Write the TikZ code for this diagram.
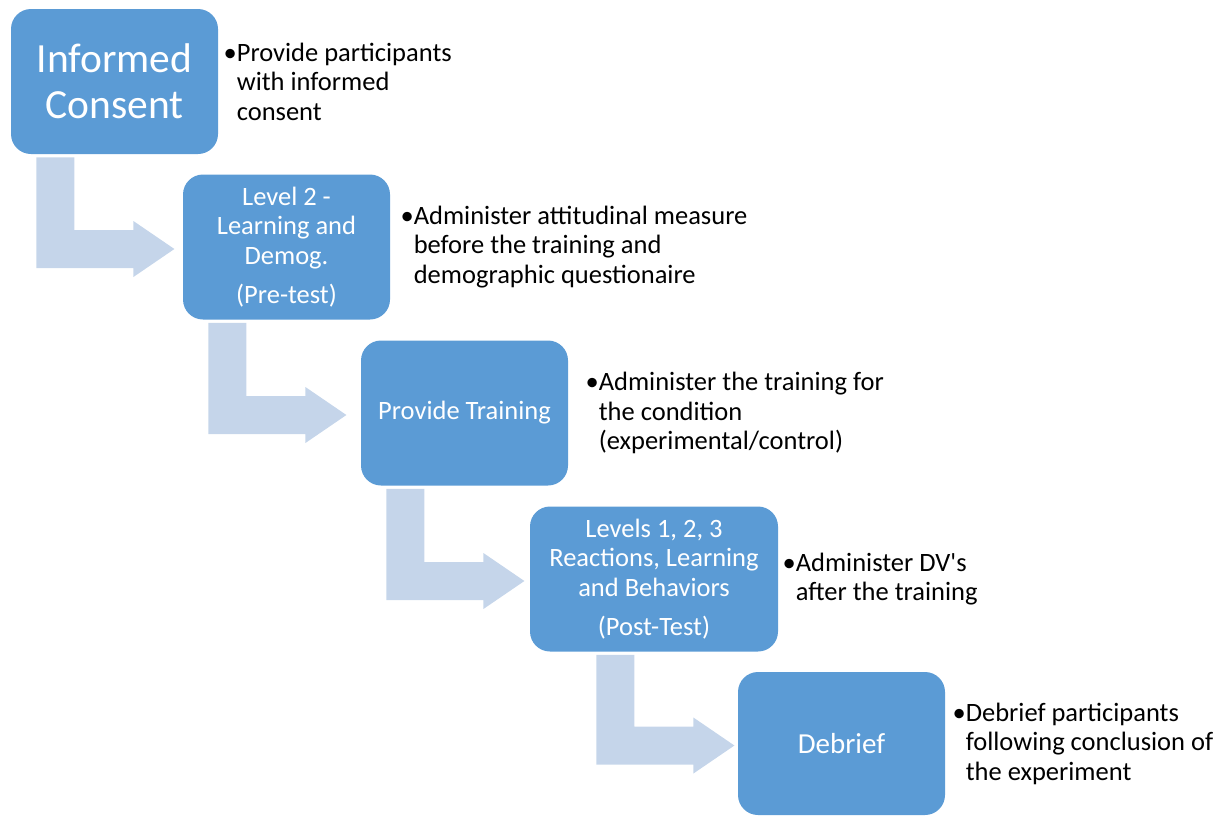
\documentclass[tikz,border=0pt]{standalone}
\usepackage{fontspec}
\setmainfont{Carlito}
\usepackage{tikz}
\usetikzlibrary{positioning, calc}
\definecolor{stageblue}{HTML}{5B9BD5}
\definecolor{arrowblue}{HTML}{C5D5EA}
\tikzstyle{stage} = [rectangle, rounded corners=10pt, fill=stageblue, text=white, align=center, minimum width=103.5pt, minimum height=72.5pt, inner sep=2pt, font=\fontsize{13.25}{14.75}\selectfont]
\tikzstyle{stepnote} = [align=left, inner sep=0pt, font=\fontsize{13.25}{14.75}\selectfont]
\tikzstyle{flowarrow} = [fill=arrowblue]

\begin{document}
\begin{tikzpicture}[x=0.5pt, y=-0.5pt]

   \useasboundingbox (0,0) rectangle (1224,815);

   % Draw the stage boxes
   \node[stage, font=\fontsize{20.75}{23}\selectfont] (consent) at (114.5,81.5) {Informed\\Consent};
   \node[stage] (pretest) at (286.5,247) {Level 2 -\\Learning and\\Demog.\\[4.75pt](Pre-test)};
   \node[stage] (training) at (464.5,413) {Provide Training};
   \node[stage, minimum width=124pt] (posttest) at (654,579) {Levels 1, 2, 3\\Reactions, Learning\\and Behaviors\\[4.75pt](Post-Test)};
   \node[stage, minimum height=71.5pt, font=\fontsize{14.5}{16}\selectfont] (debrief) at (841.5,743.5) {Debrief};

   % Add the bullet notes beside each box
   \node[stepnote, right=9pt of consent] (consentnote) {\llap{•}Provide participants\\with informed\\consent};
   \node[stepnote, right=11.5pt of pretest] (pretestnote) {\llap{•}Administer attitudinal measure\\before the training and\\demographic questionaire};
   \node[stepnote, right=15pt of training] (trainingnote) {\llap{•}Administer the training for\\the condition\\(experimental/control)};
   \node[stepnote, right=8.5pt of posttest] (posttestnote) {\llap{•}Administer DV\textquotesingle s\\after the training};
   \node[stepnote, right=10pt of debrief] (debriefnote) {\llap{•}Debrief participants\\following conclusion of\\the experiment};

   % Bent arrows from one stage down to the next
   \foreach \from/\to in {consent/pretest, pretest/training, training/posttest, posttest/debrief} {
      \path (\from.south east) ++(-44,0) coordinate (tipx);
      \path (tipx |- \to.west) ++(0,2) coordinate (tip);
      \fill[flowarrow] ($(\from.south east)+(-182,3)$) -- ++(38,0) |- ($(tip)+(-41,-19)$) -- ++(0,-9) -- (tip) -- ++(-41,28) -- ++(0,-9) -| ($(\from.south east)+(-182,3)$) -- cycle;
   }

\end{tikzpicture}
\end{document}
